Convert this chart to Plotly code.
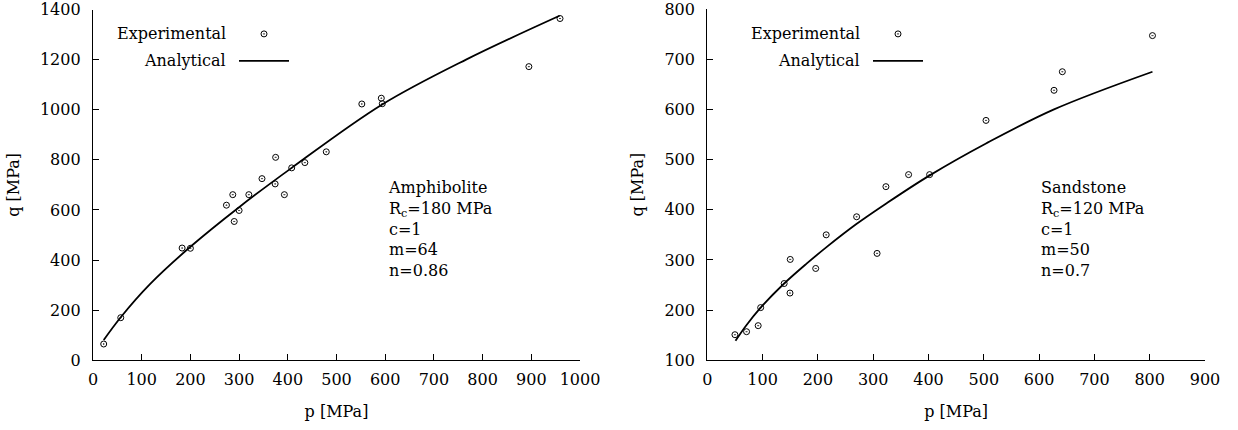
import plotly.graph_objects as go

# ---------- data ----------
# Amphibolite
amph_p = [22, 57, 183, 200, 274, 287, 290, 300, 320, 347, 374, 375, 393, 408, 435, 479, 552, 592, 594, 895, 959]
amph_q = [65, 170, 448, 447, 619, 661, 554, 598, 661, 725, 704, 810, 661, 768, 789, 832, 1023, 1046, 1024, 1172, 1364]
amph_fit_p = [22, 57, 117, 200, 300, 408, 593, 767, 958]
amph_fit_q = [81, 172, 304, 453, 611, 768, 1020, 1201, 1375]

# Sandstone
sand_p = [50, 71, 92, 96.5, 139, 149.5, 150, 196, 215, 270, 307, 323, 364, 402, 504, 627, 642, 805]
sand_q = [151, 157, 169, 205, 253, 234, 301, 283, 350, 386, 313, 446, 470, 470, 578, 638, 675, 747]
sand_fit_p = [51, 70, 96.5, 139, 180, 215, 269, 323, 401.5, 504, 627, 805]
sand_fit_q = [139, 169, 205, 253, 293, 325, 371, 412, 468, 532, 600, 675]

legend_labels = ["Experimental", "Analytical"]
amph_info = ["Amphibolite", "R<sub>c</sub>=180 MPa", "c=1", "m=64", "n=0.86"]
sand_info = ["Sandstone", "R<sub>c</sub>=120 MPa", "c=1", "m=50", "n=0.7"]

FONT = "DejaVu Serif"
W, H = 1238, 430


def px(x):
    return x / W


def py(y):
    return 1 - y / H


fig = go.Figure()

marker = dict(symbol="circle-open-dot", size=6, color="black", line=dict(width=1, color="black"))
lineopt = dict(color="black", width=1.8)

fig.add_trace(go.Scatter(x=amph_p, y=amph_q, mode="markers", marker=marker, showlegend=True,
                         xaxis="x", yaxis="y", name="", legend="legend"))
fig.add_trace(go.Scatter(x=amph_fit_p, y=amph_fit_q, mode="lines", line=dict(shape="spline", **lineopt),
                         showlegend=True, xaxis="x", yaxis="y", name="", legend="legend2"))
fig.add_trace(go.Scatter(x=sand_p, y=sand_q, mode="markers", marker=marker, showlegend=True,
                         xaxis="x2", yaxis="y2", name="", legend="legend3"))
fig.add_trace(go.Scatter(x=sand_fit_p, y=sand_fit_q, mode="lines", line=dict(shape="spline", **lineopt),
                         showlegend=True, xaxis="x2", yaxis="y2", name="", legend="legend4"))

axis_common = dict(showline=True, linecolor="black", linewidth=1.3, ticks="inside", ticklen=6,
                   tickcolor="black", tickwidth=1.3, showgrid=False, zeroline=False, mirror=False,
                   tickfont=dict(family=FONT, size=16, color="black"), automargin=False,
                   ticklabeloverflow="allow")
title_font = dict(family=FONT, size=16, color="black")

fig.update_layout(
    width=W, height=H,
    margin=dict(l=0, r=0, t=0, b=0),
    paper_bgcolor="white", plot_bgcolor="white",
    font=dict(family=FONT, size=16, color="black"),
    showlegend=True,
    xaxis=dict(domain=[px(93), px(580)], range=[0, 1000], dtick=100, anchor="y",
               title=dict(text="p [MPa]", standoff=18, font=title_font), ticklabelstandoff=4, **axis_common),
    yaxis=dict(domain=[py(360.3), py(9.5)], range=[0, 1400], dtick=200, anchor="x",
               title=dict(text="q [MPa]", standoff=16, font=title_font), ticklabelstandoff=8, **axis_common),
    xaxis2=dict(domain=[px(707.3), px(1205)], range=[0, 900], dtick=100, anchor="y2",
                title=dict(text="p [MPa]", standoff=18, font=title_font), ticklabelstandoff=4, **axis_common),
    yaxis2=dict(domain=[py(360.3), py(9)], range=[100, 800], dtick=100, anchor="x2",
                title=dict(text="q [MPa]", standoff=16, font=title_font), ticklabelstandoff=8, **axis_common),
)

leg = dict(bgcolor="rgba(0,0,0,0)", borderwidth=0, font=dict(family=FONT, size=16),
           xanchor="left", yanchor="middle", itemwidth=50, visible=True)
fig.update_layout(
    legend=dict(x=px(234), y=py(34), **leg),
    legend2=dict(x=px(234), y=py(61), **leg),
    legend3=dict(x=px(868), y=py(34), **leg),
    legend4=dict(x=px(868), y=py(61), **leg),
)

annots = []
for xl in (228, 862):
    for yl, lab in zip((34, 61), legend_labels):
        annots.append(dict(x=px(xl), y=py(yl), xref="paper", yref="paper", text=lab, showarrow=False,
                           xanchor="right", yanchor="middle", font=dict(family=FONT, size=16)))
annots.append(dict(x=px(386), y=py(176), xref="paper", yref="paper", text="<br>".join(amph_info),
                   showarrow=False, xanchor="left", yanchor="top", align="left",
                   font=dict(family=FONT, size=16)))
annots.append(dict(x=px(1039), y=py(176), xref="paper", yref="paper", text="<br>".join(sand_info),
                   showarrow=False, xanchor="left", yanchor="top", align="left",
                   font=dict(family=FONT, size=16)))
fig.update_layout(annotations=annots)

fig.write_html("out.html", config={"displayModeBar": False},
               post_script="document.body.style.margin='0';document.body.style.overflow='hidden';")
